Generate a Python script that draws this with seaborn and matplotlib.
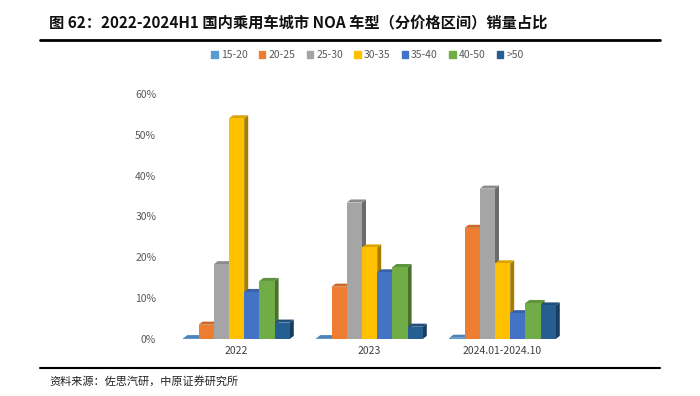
import matplotlib
matplotlib.use("Agg")
import matplotlib.pyplot as plt
import matplotlib.colors as mcolors
from matplotlib.patches import Polygon
import seaborn as sns
import pandas as pd

# data (share of NOA sales by price band, %)
years = ["2022", "2023", "2024.01-2024.10"]
bands = ["15-20", "20-25", "25-30", "30-35", "35-40", "40-50", ">50"]
share_2022 = [0.2, 3.5, 18.3, 54.0, 11.5, 14.2, 4.0]
share_2023 = [0.2, 12.8, 33.4, 22.4, 16.3, 17.6, 3.0]
share_2024 = [0.3, 27.2, 36.8, 18.5, 6.3, 8.8, 8.2]
band_colors = ["#5B9BD5", "#ED7D31", "#A5A5A5", "#FFC000", "#4472C4", "#70AD47", "#255E91"]

rows = []
for yr, vals in zip(years, [share_2022, share_2023, share_2024]):
    for b, v in zip(bands, vals):
        rows.append({"year": yr, "band": b, "share": v})
df = pd.DataFrame(rows)

sns.set_style("white")
plt.rcParams["font.family"] = ["Noto Sans CJK SC", "DejaVu Sans"]

fig = plt.figure(figsize=(7, 3.96), dpi=100)
ax = fig.add_axes([0.243, 0.144, 0.57, 0.619])

sns.barplot(data=df, x="year", y="share", hue="band", palette=band_colors,
            width=0.8, saturation=1, linewidth=0, edgecolor="none", ax=ax, legend=False)

# fake 3D depth: side and top faces derived from each bar,
# later bands sit in front of the previous band's side face
dx, dy = 0.03, 0.75
hex_cols = [c.lower() for c in band_colors]
for patch in list(ax.patches):
    x0 = patch.get_x()
    w = patch.get_width()
    h = patch.get_height()
    rgb = mcolors.to_rgb(patch.get_facecolor())
    k = hex_cols.index(mcolors.to_hex(rgb))
    patch.set_zorder(3 + k + 0.5)
    patch.set_linewidth(0)
    side = tuple(c * 0.65 for c in rgb)
    top = tuple(c * 0.85 for c in rgb)
    ax.add_patch(Polygon([(x0 + w, 0), (x0 + w + dx, dy), (x0 + w + dx, h + dy), (x0 + w, h)],
                         closed=True, facecolor=side, edgecolor="none", lw=0, zorder=3 + k))
    ax.add_patch(Polygon([(x0, h), (x0 + dx, h + dy), (x0 + w + dx, h + dy), (x0 + w, h)],
                         closed=True, facecolor=top, edgecolor="none", lw=0, zorder=3 + k))

ax.set_ylim(0, 60)
ax.set_xlim(-0.5, 2.5)
ax.set_yticks(range(0, 61, 10))
ax.set_yticklabels([f"{t}%" for t in range(0, 61, 10)])
ax.tick_params(axis="y", length=0, pad=10, labelsize=7.5, labelcolor="#595959")
ax.tick_params(axis="x", length=0, pad=5, labelsize=7.5, labelcolor="#404040")
ax.set_xlabel("")
ax.set_ylabel("")
for s in ax.spines.values():
    s.set_visible(False)

# legend
handles = [plt.Rectangle((0, 0), 1, 1, color=c) for c in band_colors]
fig.legend(handles, bands, loc="center", bbox_to_anchor=(0.525, 0.861), ncol=7,
           frameon=False, fontsize=7.5, handlelength=0.6, handleheight=0.6,
           handletextpad=0.3, columnspacing=1.1, labelcolor="#595959")

# title and rules
fig.text(0.07, 0.944, "图 62：2022-2024H1 国内乘用车城市 NOA 车型（分价格区间）销量占比",
         fontsize=11, fontweight="bold", va="center", ha="left", color="#111111")
fig.add_artist(plt.Line2D([0.057, 0.943], [0.899, 0.899], color="black", lw=2))
fig.add_artist(plt.Line2D([0.057, 0.943], [0.071, 0.071], color="black", lw=1.5))
fig.text(0.07, 0.038, "资料来源：佐思汽研，中原证券研究所", fontsize=8, va="center",
         ha="left", color="#222222")

fig.savefig("out.png", dpi=100)
